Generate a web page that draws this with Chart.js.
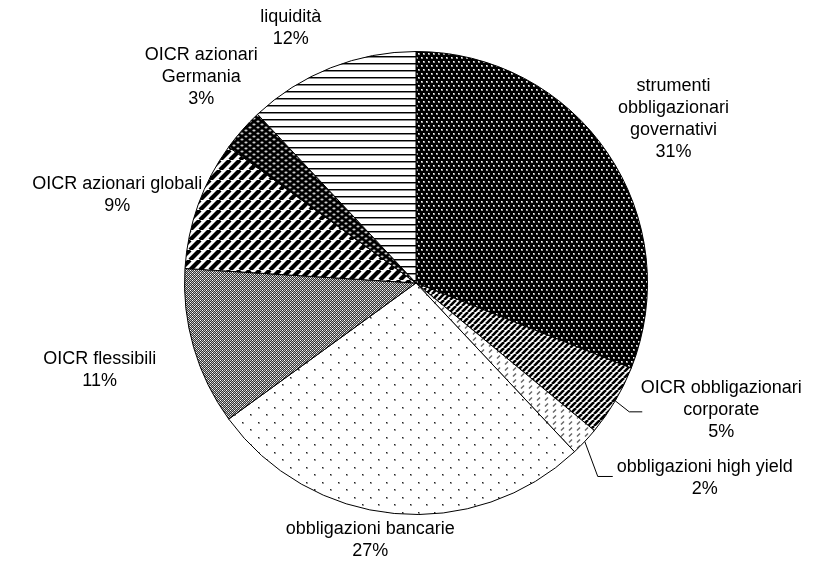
<!DOCTYPE html>
<html>
<head>
<meta charset="utf-8">
<script src="https://cdn.jsdelivr.net/npm/chart.js@4.4.1/dist/chart.umd.min.js"></script>
<style>
  html, body { margin: 0; padding: 0; background: #fff; }
  canvas { display: block; }
</style>
</head>
<body>
<canvas id="c" width="816" height="568"></canvas>
<script>
// ---- data ----
const categories = [
  "strumenti obbligazionari governativi",
  "OICR obbligazionari corporate",
  "obbligazioni high yield",
  "obbligazioni bancarie",
  "OICR flessibili",
  "OICR azionari globali",
  "OICR azionari Germania",
  "liquidità"
];
const shares = [31, 5, 2, 27, 11, 9, 3, 12];
const labelLines = [
  ["strumenti", "obbligazionari", "governativi", "31%"],
  ["OICR obbligazionari", "corporate", "5%"],
  ["obbligazioni high yield", "2%"],
  ["obbligazioni bancarie", "27%"],
  ["OICR flessibili", "11%"],
  ["OICR azionari globali", "9%"],
  ["OICR azionari", "Germania", "3%"],
  ["liquidità", "12%"]
];

// ---- label placement (offsets from the arc's outer mid point) ----
const labelOffsets = [[66,-34],[106,9],[120,37],[-24,27],[-94,22],[-81,-10],[-41,-53],[-40,-40]];
const leaders = { 1: [[14,11],[27,11]], 2: [[13,35],[28,35]] };

// ---- patterns ----
function tile(w, h, draw) {
  const c = document.createElement('canvas');
  c.width = w; c.height = h;
  const x = c.getContext('2d');
  draw(x, w, h);
  return document.getElementById('c').getContext('2d').createPattern(c, 'repeat');
}
function diag(x, n, lw, col) {
  x.strokeStyle = col; x.lineWidth = lw;
  for (let k = -1; k <= 1; k++) {
    x.beginPath(); x.moveTo(k*n, n); x.lineTo(k*n + n, 0); x.stroke();
  }
}
const patterns = [
  // governativi: black with white dots
  tile(5, 8, (x) => {
    x.fillStyle = '#000'; x.fillRect(0,0,5,8);
    x.fillStyle = '#999'; x.fillRect(1,1,2,2); x.fillRect(3,5,2,2);
    x.fillStyle = '#fff'; x.fillRect(1,1,1,1); x.fillRect(3,5,1,1);
  }),
  // corporate: diagonal stripes
  tile(6, 6, (x) => { x.fillStyle = '#fff'; x.fillRect(0,0,6,6); diag(x, 6, 2.6, '#000'); }),
  // high yield: light diagonal dashes
  tile(8, 6, (x) => {
    x.fillStyle = '#fff'; x.fillRect(0,0,8,6);
    x.strokeStyle = '#666'; x.lineWidth = 1.4;
    x.beginPath(); x.moveTo(1,4.5); x.lineTo(4,1.5); x.stroke();
  }),
  // bancarie: sparse dots
  tile(16, 15, (x) => {
    x.fillStyle = '#fff'; x.fillRect(0,0,16,15);
    x.fillStyle = '#999'; x.fillRect(2,2,2,2); x.fillRect(10,9,2,2);
    x.fillStyle = '#222'; x.fillRect(2,2,1,1); x.fillRect(10,9,1,1);
  }),
  // flessibili: fine checker
  tile(4, 4, (x) => {
    for (let i = 0; i < 4; i++) for (let j = 0; j < 4; j++) {
      x.fillStyle = ((i + j) % 2) ? '#333' : '#bbb';
      x.fillRect(i, j, 1, 1);
    }
    x.fillStyle = '#fff'; x.fillRect(0,0,1,1); x.fillRect(2,2,1,1);
  }),
  // globali: wide diagonal stripes
  tile(10, 10, (x) => { x.fillStyle = '#fff'; x.fillRect(0,0,10,10); diag(x, 10, 4.2, '#000'); }),
  // Germania: black with white ovals
  tile(8, 6, (x) => {
    x.fillStyle = '#000'; x.fillRect(0,0,8,6);
    x.fillStyle = '#ccc';
    x.beginPath(); x.ellipse(2,1.5,1.6,1,0,0,Math.PI*2); x.fill();
    x.beginPath(); x.ellipse(6,4.5,1.6,1,0,0,Math.PI*2); x.fill();
  }),
  // liquidità: horizontal lines
  tile(4, 7, (x) => {
    x.fillStyle = '#fff'; x.fillRect(0,0,4,7);
    x.fillStyle = '#000'; x.fillRect(0,0,4,1);
    x.fillStyle = '#888'; x.fillRect(0,1,4,1);
  })
];

const labelPlugin = {
  id: 'pieLabels',
  afterDatasetsDraw(chart) {
    const ctx = chart.ctx;
    const meta = chart.getDatasetMeta(0);
    ctx.save();
    ctx.font = '18px "Liberation Sans", Arial, sans-serif';
    ctx.fillStyle = '#000';
    ctx.textAlign = 'center';
    ctx.textBaseline = 'middle';
    meta.data.forEach((arc, i) => {
      const p = arc.getProps(['x','y','startAngle','endAngle','outerRadius'], true);
      const a = (p.startAngle + p.endAngle) / 2;
      const ax = p.x + p.outerRadius * Math.cos(a);
      const ay = p.y + p.outerRadius * Math.sin(a);
      if (leaders[i]) {
        ctx.strokeStyle = '#000'; ctx.lineWidth = 1;
        ctx.beginPath();
        ctx.moveTo(ax, ay);
        leaders[i].forEach(([dx, dy]) => ctx.lineTo(ax + dx, ay + dy));
        ctx.stroke();
      }
      const cx = ax + labelOffsets[i][0];
      const cy = ay + labelOffsets[i][1];
      const lines = labelLines[i];
      lines.forEach((t, k) => {
        ctx.fillText(t, cx, cy + (k - (lines.length - 1) / 2) * 22);
      });
    });
    ctx.restore();
  }
};

new Chart(document.getElementById('c'), {
  type: 'pie',
  data: {
    labels: categories,
    datasets: [{
      data: shares,
      backgroundColor: patterns,
      borderColor: '#000',
      borderWidth: 1
    }]
  },
  options: {
    responsive: false,
    animation: false,
    layout: { padding: { top: 51, bottom: 53, left: 184, right: 168 } },
    plugins: { legend: { display: false }, tooltip: { enabled: false } }
  },
  plugins: [labelPlugin]
});
</script>
</body>
</html>
